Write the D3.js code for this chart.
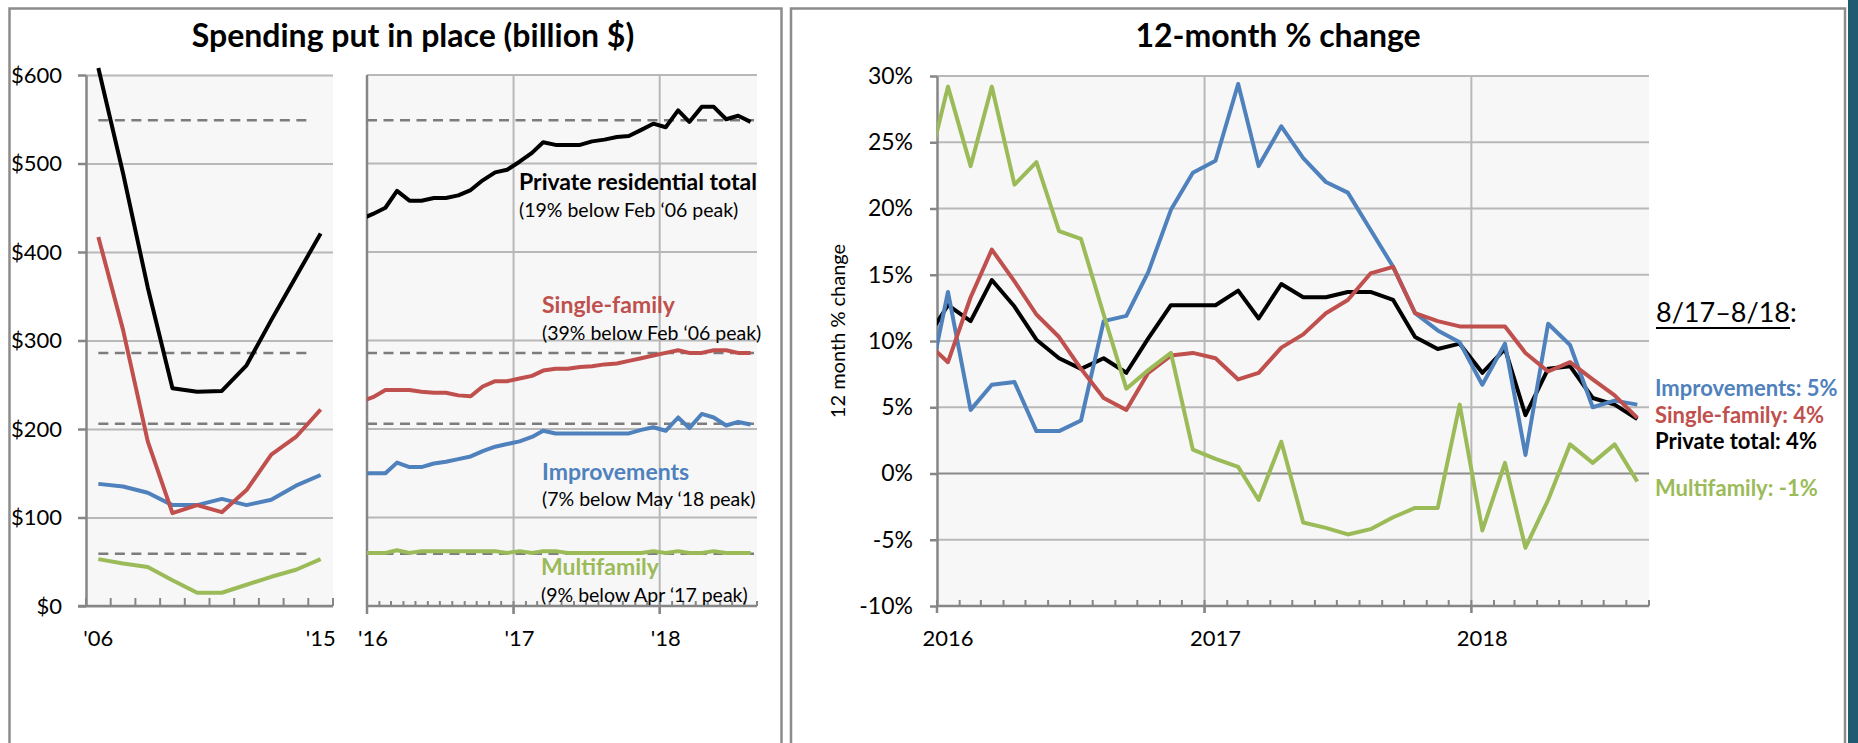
<!DOCTYPE html>
<html>
<head>
<meta charset="utf-8">
<script src="https://cdn.jsdelivr.net/npm/d3@7"></script>
<style>
  body { margin: 0; background: #fff; }
  svg { display: block; font-family: Lato, "Open Sans", sans-serif; }
</style>
</head>
<body>
<div id="chart"></div>
<script>
// Annual spending 2006-2015 (billion $)
const years = [2006, 2007, 2008, 2009, 2010, 2011, 2012, 2013, 2014, 2015];
const yearLabels = [2006, 2015];
const annualTotal = [608, 489, 360, 246, 242, 243, 272, 323, 372, 421];
const annualSingle = [417, 312, 186, 105, 114, 106, 131, 171, 191, 222];
const annualImprov = [138, 135, 128, 114, 114, 121, 114, 120, 136, 148];
const annualMulti = [53, 48, 44, 29, 15, 15, 24, 33, 41, 53];

// Monthly, Dec 2015 - Aug 2018 (Dec 2015 only feeds the clipped line start)
const months = d3.timeMonths(new Date(2015, 11, 1), new Date(2018, 8, 1));
const monthTotal = [437, 443, 450, 469, 458, 458, 461, 461, 464, 470, 481, 490, 493,
                    502, 512, 524, 521, 521, 521, 525, 527, 530, 531, 538, 545,
                    541, 560, 547, 564, 564, 550, 554, 547];
const monthSingle = [231, 236, 244, 244, 244, 242, 241, 241, 238, 237, 248, 254, 254,
                     257, 260, 266, 268, 268, 270, 271, 273, 274, 277, 280, 283,
                     286, 289, 286, 286, 289, 289, 286, 286];
const monthImprov = [150, 150, 150, 162, 157, 157, 161, 163, 166, 169, 175, 180, 183,
                     186, 191, 198, 195, 195, 195, 195, 195, 195, 195, 199, 202,
                     198, 213, 201, 217, 213, 204, 208, 205];
const monthMulti = [60, 60, 60, 63, 60, 62, 62, 62, 62, 62, 62, 62, 60,
                    62, 60, 62, 62, 60, 60, 60, 60, 60, 60, 60, 62,
                    60, 62, 60, 60, 62, 60, 60, 60];
const refLevels = [549, 286, 206, 59];

// 12-month % change, same months
const pctTotal = [10.0, 12.7, 11.5, 14.6, 12.6, 10.1, 8.7, 7.9, 8.7, 7.6, 10.2, 12.7, 12.7,
                  12.7, 13.8, 11.7, 14.3, 13.3, 13.3, 13.7, 13.7, 13.1, 10.3, 9.4, 9.8,
                  7.6, 9.4, 4.4, 7.9, 8.1, 5.7, 5.2, 4.1];
const pctSingle = [10.0, 8.4, 13.3, 16.9, 14.5, 12.0, 10.3, 7.9, 5.7, 4.8, 7.6, 8.9, 9.1,
                   8.7, 7.1, 7.6, 9.5, 10.5, 12.1, 13.1, 15.1, 15.6, 12.1, 11.5, 11.1,
                   11.1, 11.1, 9.1, 7.7, 8.4, 7.1, 5.9, 4.2];
const pctImprov = [5.4, 13.7, 4.8, 6.7, 6.9, 3.2, 3.2, 4.0, 11.5, 11.9, 15.2, 19.9, 22.7,
                   23.6, 29.4, 23.2, 26.2, 23.8, 22.0, 21.2, 18.4, 15.6, 12.1, 10.8, 9.9,
                   6.7, 9.8, 1.4, 11.3, 9.7, 5.0, 5.5, 5.2];
const pctMulti = [22.2, 29.2, 23.2, 29.2, 21.8, 23.5, 18.3, 17.7, 12.0, 6.4, 7.8, 9.1, 1.8,
                  1.1, 0.5, -2.0, 2.4, -3.7, -4.1, -4.6, -4.2, -3.3, -2.6, -2.6, 5.2,
                  -4.3, 0.8, -5.6, -2.0, 2.2, 0.8, 2.2, -0.6];
const pctTicks = [-10, -5, 0, 5, 10, 15, 20, 25, 30];

const colors = { total: "#000000", single: "#c0504d", improv: "#4f81bd", multi: "#9bbb59" };
const gridColor = "#b8b8b8", axisColor = "#868686", plotBg = "#f7f7f7";
const lineW = 4;

const svg = d3.select("#chart").append("svg")
  .attr("width", 1858).attr("height", 743);

// panel frames
svg.append("rect").attr("x", 9.5).attr("y", 8.5).attr("width", 772).attr("height", 800)
  .attr("fill", "none").attr("stroke", "#8c8c8c").attr("stroke-width", 2.5);
svg.append("rect").attr("x", 791).attr("y", 8.5).attr("width", 1054).attr("height", 800)
  .attr("fill", "none").attr("stroke", "#8c8c8c").attr("stroke-width", 2.5);
svg.append("rect").attr("x", 1848).attr("y", 0).attr("width", 10).attr("height", 743)
  .attr("fill", "#1f5a70");

// titles
svg.append("text").attr("x", 413).attr("y", 47).attr("text-anchor", "middle")
  .style("font-size", "32px").style("font-weight", "bold").text("Spending put in place (billion $)");
svg.append("text").attr("x", 1278).attr("y", 47).attr("text-anchor", "middle")
  .style("font-size", "32px").style("font-weight", "bold").text("12-month % change");

const midMonth = d => d3.timeDay.offset(d, 15);

// ---------- left: annual 2006-2015 ----------
const yA = d3.scaleLinear().domain([0, 600]).range([606, 75]);
const xA = d3.scaleBand().domain(years).range([86, 333]);
const cx = y => xA(y) + xA.bandwidth() / 2;

const gA = svg.append("g");
gA.append("rect").attr("x", 86).attr("y", 75).attr("width", 247).attr("height", 531).attr("fill", plotBg);

gA.append("g").attr("transform", "translate(86,0)")
  .call(d3.axisLeft(yA).tickValues(d3.range(0, 601, 100)).tickSize(-247).tickFormat(""))
  .call(g => g.select(".domain").remove())
  .call(g => g.selectAll("line").attr("stroke", gridColor).attr("stroke-width", 2));

gA.append("g").attr("transform", "translate(86,0)")
  .call(d3.axisLeft(yA).tickValues(d3.range(0, 601, 100)).tickSize(8).tickSizeOuter(0)
    .tickPadding(16).tickFormat(d => "$" + d))
  .call(g => g.select(".domain").attr("stroke", axisColor).attr("stroke-width", 2.5))
  .call(g => g.selectAll("line").attr("stroke", axisColor).attr("stroke-width", 2.5))
  .call(g => g.selectAll("text").style("font-size", "22px").attr("fill", "#000").style("font-family", "Lato"));

gA.append("line").attr("x1", 78).attr("x2", 333).attr("y1", yA(0)).attr("y2", yA(0))
  .attr("stroke", axisColor).attr("stroke-width", 2.5);
gA.selectAll(".tickA").data(years.map(y => xA(y)).concat([xA.range()[1]]))
  .join("line").attr("x1", d => d).attr("x2", d => d).attr("y1", yA(0)).attr("y2", yA(0) - 8)
  .attr("stroke", axisColor).attr("stroke-width", 2);
gA.selectAll(".lblA").data(yearLabels).join("text")
  .attr("x", d => cx(d)).attr("y", 646).attr("text-anchor", "middle")
  .style("font-size", "22px").text(d => "'" + String(d).slice(2));

gA.selectAll(".refA").data(refLevels).join("line")
  .attr("x1", cx(2006)).attr("x2", cx(2015) - 9)
  .attr("y1", d => yA(d)).attr("y2", d => yA(d))
  .attr("stroke", "#7c7c7c").attr("stroke-width", 2.5).attr("stroke-dasharray", "10,6.5");

const lineA = vals => d3.line().x((d, i) => cx(years[i])).y(d => yA(d))(vals);
[[annualMulti, colors.multi], [annualImprov, colors.improv], [annualSingle, colors.single], [annualTotal, colors.total]]
  .forEach(([vals, c]) => {
    gA.append("path").attr("d", lineA(vals)).attr("fill", "none")
      .attr("stroke", c).attr("stroke-width", lineW).attr("stroke-linejoin", "round");
  });

// ---------- middle: monthly 2016-2018 ----------
const xB = d3.scaleTime().domain([new Date(2016, 0, 1), new Date(2018, 8, 1)]).range([367, 757]);
const gB = svg.append("g");
gB.append("rect").attr("x", 367).attr("y", 75).attr("width", 390).attr("height", 531).attr("fill", plotBg);
gB.append("clipPath").attr("id", "clipB").append("rect")
  .attr("x", 367).attr("y", 60).attr("width", 390).attr("height", 560);

gB.selectAll(".gridB").data(d3.range(100, 601, 100)).join("line")
  .attr("x1", 367).attr("x2", 757).attr("y1", d => yA(d)).attr("y2", d => yA(d))
  .attr("stroke", gridColor).attr("stroke-width", 2);
const yearsB = [new Date(2017, 0, 1), new Date(2018, 0, 1)];
gB.selectAll(".vgridB").data(yearsB).join("line")
  .attr("x1", d => xB(d)).attr("x2", d => xB(d)).attr("y1", 75).attr("y2", 614)
  .attr("stroke", gridColor).attr("stroke-width", 2);
gB.append("line").attr("x1", 367).attr("x2", 367).attr("y1", 75).attr("y2", 614)
  .attr("stroke", axisColor).attr("stroke-width", 2.5);
gB.append("line").attr("x1", 367).attr("x2", 757).attr("y1", yA(0)).attr("y2", yA(0))
  .attr("stroke", axisColor).attr("stroke-width", 2.5);
gB.selectAll(".mtB").data(d3.timeMonths(new Date(2016, 0, 1), new Date(2018, 8, 2))).join("line")
  .attr("x1", d => xB(d)).attr("x2", d => xB(d)).attr("y1", yA(0)).attr("y2", yA(0) - 5)
  .attr("stroke", axisColor).attr("stroke-width", 2);
gB.selectAll(".ytB").data(yearsB).join("line")
  .attr("x1", d => xB(d)).attr("x2", d => xB(d)).attr("y1", yA(0)).attr("y2", yA(0) + 8)
  .attr("stroke", axisColor).attr("stroke-width", 2.5);
gB.selectAll(".lblB").data([2016, 2017, 2018]).join("text")
  .attr("x", d => xB(midMonth(new Date(d, 0, 1)))).attr("y", 646).attr("text-anchor", "middle")
  .style("font-size", "22px").text(d => "'" + String(d).slice(2));

gB.selectAll(".refB").data(refLevels).join("line")
  .attr("x1", 367).attr("x2", 754)
  .attr("y1", d => yA(d)).attr("y2", d => yA(d))
  .attr("stroke", "#7c7c7c").attr("stroke-width", 2.5).attr("stroke-dasharray", "10,6.5");

const lineB = vals => d3.line().x((d, i) => xB(midMonth(months[i]))).y(d => yA(d))(vals);
const linesB = gB.append("g").attr("clip-path", "url(#clipB)");
[[monthMulti, colors.multi], [monthImprov, colors.improv], [monthSingle, colors.single], [monthTotal, colors.total]]
  .forEach(([vals, c]) => {
    linesB.append("path").attr("d", lineB(vals)).attr("fill", "none")
      .attr("stroke", c).attr("stroke-width", lineW).attr("stroke-linejoin", "round");
  });

const notes = [
  { t: "Private residential total", c: colors.total, x: 519, y: 190, b: true },
  { t: "(19% below Feb \u201806 peak)", c: "#000", x: 519, y: 217 },
  { t: "Single-family", c: colors.single, x: 542, y: 313, b: true },
  { t: "(39% below Feb \u201806 peak)", c: "#000", x: 542, y: 340 },
  { t: "Improvements", c: colors.improv, x: 542, y: 480, b: true },
  { t: "(7% below May \u201818 peak)", c: "#000", x: 542, y: 506 },
  { t: "Multifamily", c: colors.multi, x: 541, y: 575, b: true },
  { t: "(9% below Apr \u201817 peak)", c: "#000", x: 541, y: 602 }
];
gB.selectAll(".note").data(notes).join("text")
  .attr("x", d => d.x).attr("y", d => d.y).attr("fill", d => d.c)
  .style("font-size", d => d.b ? "23px" : "19.5px").style("font-weight", d => d.b ? "bold" : "normal")
  .text(d => d.t);

// ---------- right: 12-month % change ----------
const xC = d3.scaleTime().domain([new Date(2016, 0, 1), new Date(2018, 8, 1)]).range([937, 1649]);
const yC = d3.scaleLinear().domain([-10, 30]).range([606, 76]);
const gC = svg.append("g");
gC.append("rect").attr("x", 937).attr("y", 76).attr("width", 712).attr("height", 530).attr("fill", plotBg);
gC.append("clipPath").attr("id", "clipC").append("rect")
  .attr("x", 937).attr("y", 60).attr("width", 712).attr("height", 560);

gC.selectAll(".gridC").data(pctTicks.filter(d => d > -10)).join("line")
  .attr("x1", 937).attr("x2", 1649).attr("y1", d => yC(d)).attr("y2", d => yC(d))
  .attr("stroke", d => d === 0 ? "#8a8a8a" : gridColor).attr("stroke-width", 2);
const yearsC = [new Date(2017, 0, 1), new Date(2018, 0, 1)];
gC.selectAll(".vgridC").data(yearsC).join("line")
  .attr("x1", d => xC(d)).attr("x2", d => xC(d)).attr("y1", 76).attr("y2", 613)
  .attr("stroke", gridColor).attr("stroke-width", 2);

gC.append("g").attr("transform", "translate(937,0)")
  .call(d3.axisLeft(yC).tickValues(pctTicks).tickSize(7).tickSizeOuter(0)
    .tickPadding(17).tickFormat(d => d + "%"))
  .call(g => g.select(".domain").attr("stroke", axisColor).attr("stroke-width", 2.5))
  .call(g => g.selectAll("line").attr("stroke", axisColor).attr("stroke-width", 2.5))
  .call(g => g.selectAll("text").style("font-size", "23px").attr("fill", "#000").style("font-family", "Lato"));
gC.append("line").attr("x1", 937).attr("x2", 937).attr("y1", 606).attr("y2", 613)
  .attr("stroke", axisColor).attr("stroke-width", 2.5);
gC.append("line").attr("x1", 937).attr("x2", 1649).attr("y1", yC(-10)).attr("y2", yC(-10))
  .attr("stroke", axisColor).attr("stroke-width", 2.5);
gC.selectAll(".mtC").data(d3.timeMonths(new Date(2016, 0, 1), new Date(2018, 8, 2))).join("line")
  .attr("x1", d => xC(d)).attr("x2", d => xC(d)).attr("y1", yC(-10)).attr("y2", yC(-10) - 6)
  .attr("stroke", axisColor).attr("stroke-width", 2);
gC.selectAll(".ytC").data(yearsC).join("line")
  .attr("x1", d => xC(d)).attr("x2", d => xC(d)).attr("y1", yC(-10)).attr("y2", yC(-10) + 7)
  .attr("stroke", axisColor).attr("stroke-width", 2.5);
gC.selectAll(".lblC").data([2016, 2017, 2018]).join("text")
  .attr("x", d => xC(midMonth(new Date(d, 0, 1)))).attr("y", 646).attr("text-anchor", "middle")
  .style("font-size", "22px").text(d => d);

gC.append("text").attr("transform", "translate(845,331) rotate(-90)")
  .attr("text-anchor", "middle").style("font-size", "20px").text("12 month % change");

const lineC = vals => d3.line().x((d, i) => xC(midMonth(months[i]))).y(d => yC(d))(vals);
const linesC = gC.append("g").attr("clip-path", "url(#clipC)");
[[pctTotal, colors.total], [pctImprov, colors.improv], [pctSingle, colors.single], [pctMulti, colors.multi]]
  .forEach(([vals, c]) => {
    linesC.append("path").attr("d", lineC(vals)).attr("fill", "none")
      .attr("stroke", c).attr("stroke-width", lineW).attr("stroke-linejoin", "round");
  });

// change summary
gC.append("text").attr("x", 1656).attr("y", 322).style("font-size", "27px").text("8/17\u20138/18:");
gC.append("line").attr("x1", 1656).attr("x2", 1790).attr("y1", 328).attr("y2", 328)
  .attr("stroke", "#000").attr("stroke-width", 2);
const summary = [
  { t: "Improvements: 5%", c: colors.improv, y: 396 },
  { t: "Single-family: 4%", c: colors.single, y: 423 },
  { t: "Private total: 4%", c: colors.total, y: 449 },
  { t: "Multifamily: -1%", c: colors.multi, y: 496 }
];
gC.selectAll(".sum").data(summary).join("text")
  .attr("x", 1655).attr("y", d => d.y).attr("fill", d => d.c)
  .style("font-size", "22px").style("font-weight", "bold").text(d => d.t);
</script>
</body>
</html>
